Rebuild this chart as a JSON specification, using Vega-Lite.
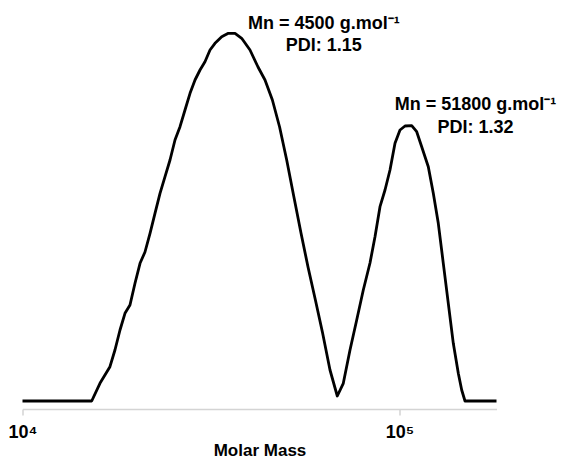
{
  "$schema": "https://vega.github.io/schema/vega-lite/v6.json",
  "autosize": "none",
  "width": 474,
  "height": 381,
  "padding": {"left": 22.5, "top": 20, "right": 66.5, "bottom": 58},
  "background": "white",
  "config": {"view": {"stroke": null}, "font": "Liberation Sans"},
  "layer": [
    {
      "data": {"values": [
        {"M": 10000, "signal": 0},
        {"M": 15260, "signal": 0},
        {"M": 16050, "signal": 17.7},
        {"M": 17060, "signal": 34.3},
        {"M": 17590, "signal": 51},
        {"M": 18140, "signal": 71},
        {"M": 18700, "signal": 87.7},
        {"M": 19280, "signal": 96},
        {"M": 19880, "signal": 117.7},
        {"M": 20500, "signal": 137.7},
        {"M": 21130, "signal": 149},
        {"M": 21790, "signal": 167.7},
        {"M": 22460, "signal": 187.7},
        {"M": 23160, "signal": 207.7},
        {"M": 23880, "signal": 224.3},
        {"M": 24620, "signal": 241},
        {"M": 25380, "signal": 261},
        {"M": 26170, "signal": 274.3},
        {"M": 26980, "signal": 291},
        {"M": 27820, "signal": 307.7},
        {"M": 28680, "signal": 321},
        {"M": 29570, "signal": 331},
        {"M": 30480, "signal": 339.3},
        {"M": 31430, "signal": 351},
        {"M": 32400, "signal": 357.7},
        {"M": 33760, "signal": 364.3},
        {"M": 35150, "signal": 367.7},
        {"M": 36620, "signal": 367.7},
        {"M": 38140, "signal": 362.7},
        {"M": 40130, "signal": 351},
        {"M": 42140, "signal": 334},
        {"M": 43980, "signal": 321},
        {"M": 46010, "signal": 301},
        {"M": 48080, "signal": 274},
        {"M": 50210, "signal": 241},
        {"M": 52470, "signal": 204},
        {"M": 54790, "signal": 168},
        {"M": 57190, "signal": 134},
        {"M": 59830, "signal": 101},
        {"M": 62520, "signal": 68},
        {"M": 65410, "signal": 31},
        {"M": 68390, "signal": 5},
        {"M": 70950, "signal": 17.7},
        {"M": 73910, "signal": 51},
        {"M": 77000, "signal": 81},
        {"M": 80160, "signal": 111},
        {"M": 83510, "signal": 138},
        {"M": 86100, "signal": 164.3},
        {"M": 88770, "signal": 194.3},
        {"M": 91530, "signal": 211},
        {"M": 94360, "signal": 231},
        {"M": 97290, "signal": 257.7},
        {"M": 100310, "signal": 271},
        {"M": 103420, "signal": 275},
        {"M": 107740, "signal": 275.3},
        {"M": 111080, "signal": 269.3},
        {"M": 114520, "signal": 254.3},
        {"M": 119230, "signal": 234.3},
        {"M": 122930, "signal": 207.7},
        {"M": 126740, "signal": 177.7},
        {"M": 130670, "signal": 137.7},
        {"M": 134720, "signal": 97.7},
        {"M": 138900, "signal": 57.7},
        {"M": 143210, "signal": 27.7},
        {"M": 146210, "signal": 11},
        {"M": 149190, "signal": 0},
        {"M": 180840, "signal": 0}
      ]},
      "mark": {"type": "line", "color": "black", "strokeWidth": 2.8, "strokeJoin": "round", "strokeCap": "butt"},
      "encoding": {
        "x": {
          "field": "M", "type": "quantitative",
          "scale": {"type": "log", "domain": [10000, 180840], "nice": false},
          "axis": {
            "title": "Molar Mass",
            "titleFont": "Liberation Sans", "titleFontSize": 17, "titleFontWeight": "bold", "titleColor": "black",
            "titlePadding": 1,
            "values": [10000, 100000],
            "labelExpr": "datum.value == 10000 ? '10⁴' : '10⁵'",
            "labelFont": "Liberation Sans", "labelFontSize": 18, "labelFontWeight": "bold", "labelColor": "black",
            "labelPadding": 8,
            "labelFlush": false,
            "grid": false,
            "offset": 8,
            "domainColor": "#d4d4d4", "domainWidth": 1.5,
            "tickColor": "#c8c8c8", "tickSize": 6, "tickWidth": 1.2
          }
        },
        "y": {
          "field": "signal", "type": "quantitative",
          "scale": {"domain": [0, 381], "nice": false, "zero": false},
          "axis": null
        }
      }
    },
    {
      "data": {"values": [
        {"label": "Mn = 4500 g.mol⁻¹", "M": 63000, "signal": 372},
        {"label": "PDI: 1.15", "M": 63000, "signal": 350},
        {"label": "Mn = 51800 g.mol⁻¹", "M": 159000, "signal": 291},
        {"label": "PDI: 1.32", "M": 159000, "signal": 268}
      ]},
      "mark": {"type": "text", "font": "Liberation Sans", "fontSize": 18, "fontWeight": "bold", "color": "black", "align": "center", "baseline": "alphabetic"},
      "encoding": {
        "x": {"field": "M", "type": "quantitative"},
        "y": {"field": "signal", "type": "quantitative"},
        "text": {"field": "label"}
      }
    }
  ]
}
